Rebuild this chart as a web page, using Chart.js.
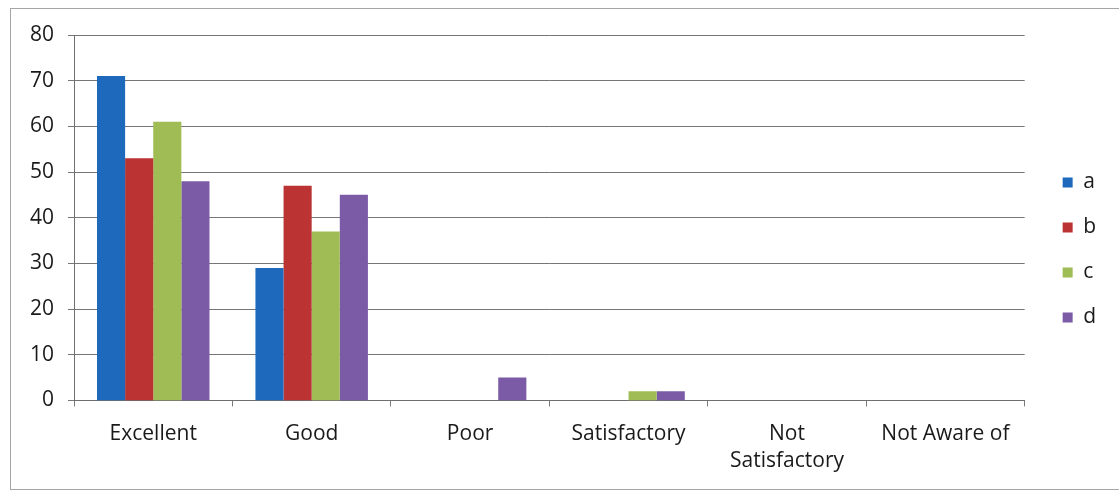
<!DOCTYPE html>
<html>
<head>
<meta charset="utf-8">
<script src="https://cdn.jsdelivr.net/npm/chart.js@4.4.1/dist/chart.umd.min.js"></script>
<style>
    html, body { margin: 0; padding: 0; background: #fff; }
    #wrap { position: relative; width: 1119px; height: 491px; overflow: hidden; }
    #frame {
        position: absolute; left: 10px; top: 8px; width: 1130px; height: 480px;
        border: 1px solid #a6a6a6; pointer-events: none;
    }
    canvas { position: absolute; left: 0; top: 0; }
</style>
</head>
<body>
<div id="wrap">
    <div id="frame"></div>
    <canvas id="ratingChart" width="1119" height="491"></canvas>
</div>
<script>
// Data
const categories = ['Excellent', 'Good', 'Poor', 'Satisfactory', ['Not', 'Satisfactory'], 'Not Aware of'];
const seriesNames = ['a', 'b', 'c', 'd'];
const valuesA = [71, 29, 0, 0, 0, 0];
const valuesB = [53, 47, 0, 0, 0, 0];
const valuesC = [61, 37, 0, 2, 0, 0];
const valuesD = [48, 45, 5, 2, 0, 0];
const yTicks = [0, 10, 20, 30, 40, 50, 60, 70, 80];

const seriesColors = ['#1f69bd', '#bb3333', '#9fbc55', '#7b5ba6'];

Chart.defaults.font.family = "'Open Sans', sans-serif";
Chart.defaults.color = '#1a1a1a';

document.addEventListener('DOMContentLoaded', function () {
    const ctx = document.getElementById('ratingChart').getContext('2d');
    const allValues = [valuesA, valuesB, valuesC, valuesD];

    new Chart(ctx, {
        type: 'bar',
        data: {
            labels: categories,
            datasets: seriesNames.map(function (name, i) {
                return {
                    label: name,
                    data: allValues[i],
                    backgroundColor: seriesColors[i],
                    borderWidth: 0,
                    barPercentage: 1.0,
                    categoryPercentage: 0.71
                };
            })
        },
        options: {
            responsive: false,
            animation: false,
            layout: { padding: { left: 16, top: 11, right: 13, bottom: 2 } },
            scales: {
                x: {
                    grid: {
                        drawOnChartArea: false,
                        drawTicks: true,
                        tickLength: 6,
                        color: '#7a7a7a',
                        offset: true
                    },
                    border: { color: '#6f6f6f', width: 1 },
                    ticks: {
                        font: { size: 21, lineHeight: 1.3 },
                        padding: 14,
                        maxRotation: 0,
                        autoSkip: false
                    }
                },
                // spacer axes: keep room above the plot and between plot and legend
                topGap: {
                    type: 'linear',
                    position: 'top',
                    display: true,
                    grid: { display: false },
                    border: { display: false },
                    ticks: { display: false },
                    afterFit: function (axis) { axis.height = 24; }
                },
                rightGap: {
                    type: 'linear',
                    position: 'right',
                    display: true,
                    grid: { display: false },
                    border: { display: false },
                    ticks: { display: false },
                    afterFit: function (axis) { axis.width = 14; }
                },
                y: {
                    min: 0,
                    max: 80,
                    afterBuildTicks: function (axis) {
                        axis.ticks = yTicks.map(function (v) { return { value: v }; });
                    },
                    grid: {
                        color: '#767676',
                        lineWidth: 1,
                        tickLength: 6
                    },
                    border: { color: '#6f6f6f', width: 1 },
                    ticks: {
                        font: { size: 21 },
                        padding: 14,
                        callback: function (value) { return value; }
                    }
                }
            },
            plugins: {
                legend: {
                    position: 'right',
                    labels: {
                        boxWidth: 10,
                        boxHeight: 10,
                        padding: 24,
                        font: { size: 21 },
                        color: '#1a1a1a'
                    }
                },
                tooltip: { enabled: false }
            }
        }
    });
});
</script>
</body>
</html>
